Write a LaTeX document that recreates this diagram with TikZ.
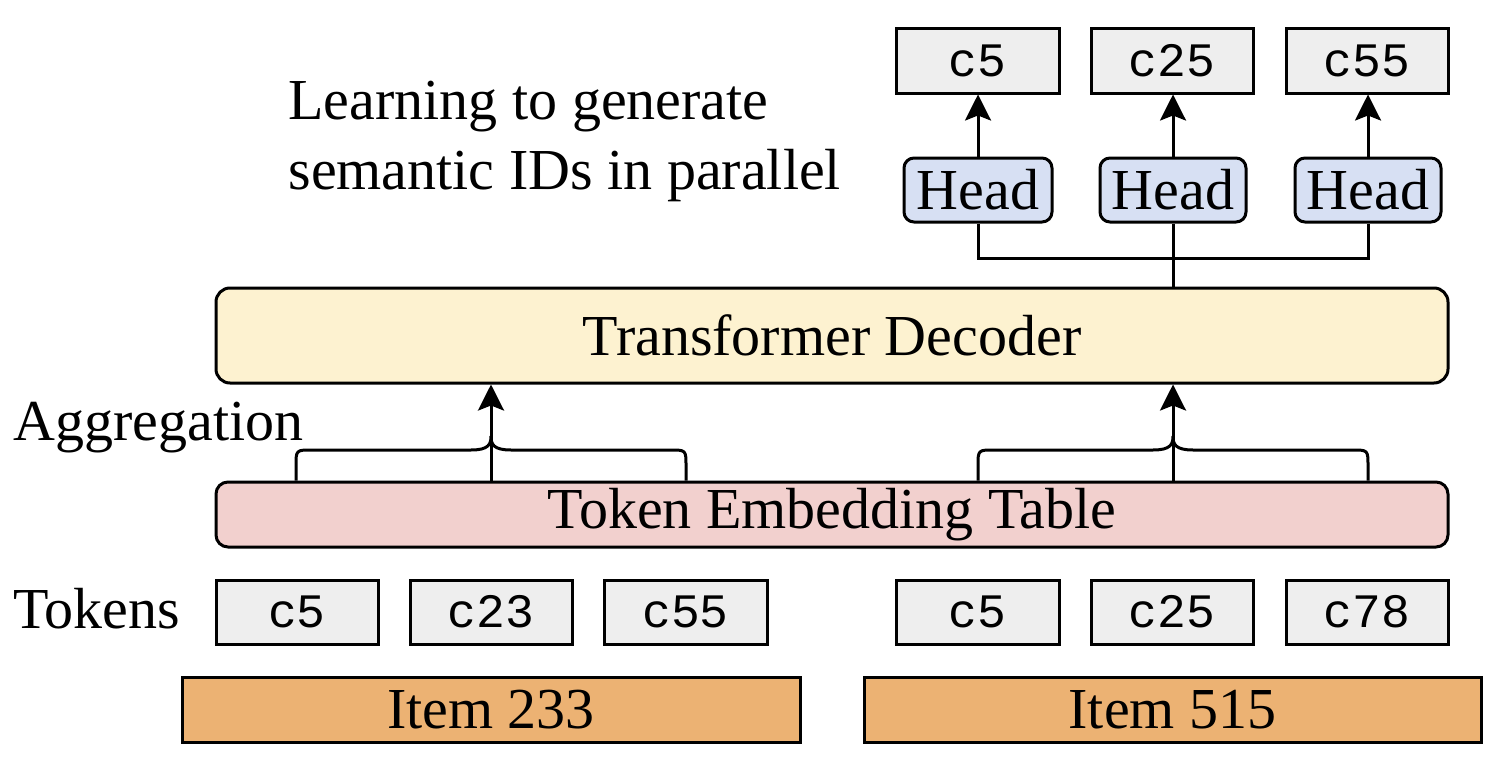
\documentclass[tikz,border=0pt]{standalone}
\usepackage{fontspec}
\setmainfont{Liberation Serif}
\newfontfamily\codefont{Liberation Mono}
\usetikzlibrary{arrows.meta,calc}
\definecolor{tokgray}{HTML}{EEEEEE}
\definecolor{headblue}{HTML}{D7E0F3}
\definecolor{decyellow}{HTML}{FDF2D0}
\definecolor{embpink}{HTML}{F2D0CE}
\definecolor{itemorange}{HTML}{ECB273}
\tikzset{
  every path/.style={line width=1.5pt},
  tokbox/.style={draw, fill=tokgray, inner sep=0pt, font=\codefont\fontsize{24}{28}\selectfont},
  headbox/.style={draw, fill=headblue, rounded corners=5pt, inner sep=0pt, font=\fontsize{29}{35}\selectfont},
  bigbox/.style={draw, rounded corners=7pt, inner sep=0pt, font=\fontsize{29}{35}\selectfont},
  itembox/.style={draw, fill=itemorange, inner sep=0pt, font=\fontsize{29}{35}\selectfont},
  lbl/.style={inner sep=0pt, font=\fontsize{29}{35}\selectfont},
  arr/.style={-{Stealth[length=13pt,width=13pt,inset=2.5pt]}},
  conn/.style={line width=1.5pt}
}
% box from pixel corners (x1,y1)-(x2,y2); 1px = 0.5pt
\newcommand\pbox[7]{%
  \pgfmathsetmacro\pbcx{(#3+#5)/2}%
  \pgfmathsetmacro\pbcy{(#4+#6)/2}%
  \pgfmathsetmacro\pbw{(#5-#3)/2}%
  \pgfmathsetmacro\pbh{(#6-#4)/2}%
  \node[#1, minimum width=\pbw pt, minimum height=\pbh pt] (#2) at (\pbcx,\pbcy) {#7};}
\begin{document}
\begin{tikzpicture}[x=0.5pt,y=-0.5pt]
\useasboundingbox (0,0) rectangle (1500,760);
% outputs
\pbox{tokbox}{o1}{896}{28}{1059}{93}{c5}
\pbox{tokbox}{o2}{1091}{28}{1253}{93}{c25}
\pbox{tokbox}{o3}{1286}{28}{1448}{93}{c55}
% heads
\pbox{headbox}{h1}{904}{158}{1052}{222}{Head}
\pbox{headbox}{h2}{1100}{158}{1246}{222}{Head}
\pbox{headbox}{h3}{1295}{158}{1441}{222}{Head}
% title
\node[lbl, anchor=north west, align=left] (title) at (287,80) {Learning to generate\\semantic IDs in parallel};
% decoder
\pbox{bigbox, fill=decyellow}{dec}{216}{288}{1448}{383}{Transformer Decoder}
% embedding
\pbox{bigbox, fill=embpink, rounded corners=6pt}{emb}{216}{482}{1448}{547}{Token Embedding Table}
% labels
\node[lbl, anchor=base west] (agg) at (12,440) {Aggregation};
\node[lbl, anchor=base west] (tokl) at (12,628) {Tokens};
% tokens
\pbox{tokbox}{t1}{216}{580}{378}{644}{c5}
\pbox{tokbox}{t2}{410}{580}{572}{644}{c23}
\pbox{tokbox}{t3}{604}{580}{767}{644}{c55}
\pbox{tokbox}{t4}{896}{580}{1059}{644}{c5}
\pbox{tokbox}{t5}{1091}{580}{1253}{644}{c25}
\pbox{tokbox}{t6}{1286}{580}{1448}{644}{c78}
% items
\pbox{itembox}{i1}{182}{677}{800}{742}{Item 233}
\pbox{itembox}{i2}{864}{677}{1481}{742}{Item 515}
% head arrows
\draw[arr] (h1.north) -- (h1.north |- o1.south);
\draw[arr] (h2.north) -- (h2.north |- o2.south);
\draw[arr] (h3.north) -- (h3.north |- o3.south);
% head connectors
\coordinate (j) at (1173,258);
\draw[conn] (h1.south) |- (j) -| (h3.south);
\draw[conn] (h2.south) -- (h2.south |- dec.north);
% braces
\coordinate (bl) at (296,482);
\coordinate (bc) at (491,482);
\coordinate (br) at (686,482);
\coordinate (cl) at (978,482);
\coordinate (cc) at (1173,482);
\coordinate (cr) at (1368,482);
\foreach \l/\c/\r in {bl/bc/br, cl/cc/cr}{
  \draw[conn] (\l |- emb.north) -- ($(\l)+(0,-16)$) .. controls ($(\l)+(0,-32)$) .. ($(\l)+(16,-32)$)
    -- ($(\c)+(-20,-32)$) .. controls ($(\c)+(-2,-32)$) and ($(\c)+(0,-38)$) .. ($(\c)+(0,-46)$)
    .. controls ($(\c)+(0,-38)$) and ($(\c)+(2,-32)$) .. ($(\c)+(20,-32)$)
    -- ($(\r)+(-16,-32)$) .. controls ($(\r)+(0,-32)$) .. ($(\r)+(0,-16)$) -- (\r |- emb.north);
  \draw[arr] (\c |- emb.north) -- (\c |- dec.south);
}
\end{tikzpicture}
\end{document}
